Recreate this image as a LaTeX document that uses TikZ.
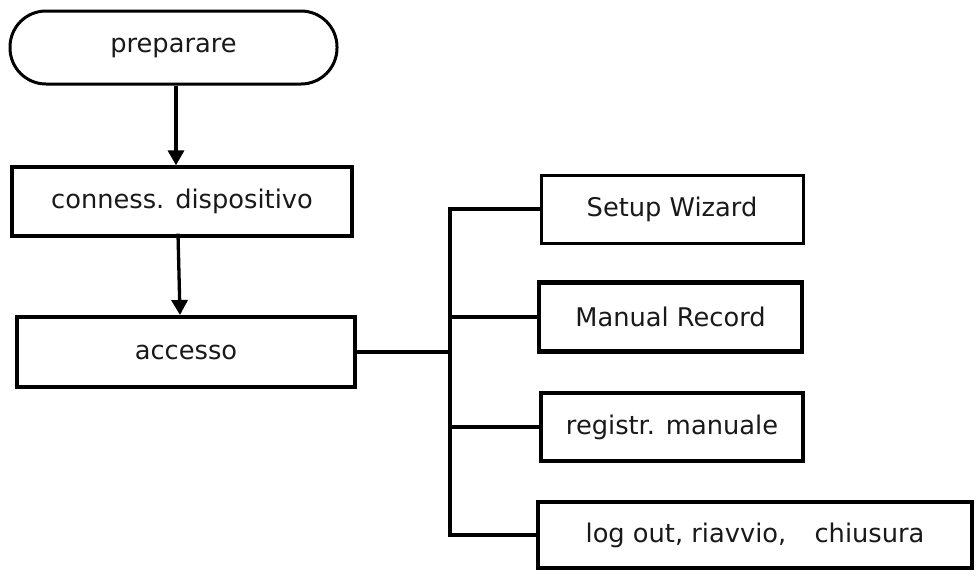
\documentclass[tikz,border=0pt]{standalone}
\usepackage{fontspec}
\setmainfont{DejaVu Sans}
\usetikzlibrary{arrows.meta}
\begin{document}
\begin{tikzpicture}[x=1pt,y=-1pt,
  box/.style={draw=black, rectangle, inner sep=0pt, font=\fontsize{25.7}{30}\selectfont, text=black!90},
  conn/.style={draw=black, line width=3.3pt},
  arr/.style={conn, -{Triangle[length=15pt,width=16pt]}}]
\useasboundingbox (0,0) rectangle (976,576);
\node[box, line width=3pt, minimum width=327pt, minimum height=73pt, rounded corners=36pt] (prep) at (173.5,47.5) {\raisebox{-2pt}{preparare}};
\node[box, line width=3.3pt, minimum width=340pt, minimum height=69pt] (cd) at (182,201.5) {conness. dispositivo};
\node[box, line width=4pt, minimum width=338pt, minimum height=70pt] (acc) at (186,352) {accesso};
\node[box, line width=3pt, minimum width=262pt, minimum height=68pt] (setup) at (672,209) {Setup Wizard};
\node[box, line width=4.5pt, minimum width=263pt, minimum height=69pt] (man) at (670.5,317) {Manual Record};
\node[box, line width=4pt, minimum width=262pt, minimum height=68pt] (reg) at (672,427) {registr. manuale};
\node[box, line width=3.5pt, minimum width=434pt, minimum height=66pt] (lo) at (755,535) {log out, riavvio,\hspace{1.1em}chiusura};
\coordinate (tr) at (450,0);
\draw[arr] ([xshift=2.5pt]prep.south) -- ([xshift=-6pt]cd.north);
\draw[arr] ([xshift=-4pt,yshift=4pt]cd.south) -- ([xshift=-6pt]acc.north);
\draw[conn] (acc.east) -- (acc.east -| tr);
\draw[conn] (setup.west) -- (setup.west -| tr) -- (lo.west -| tr) -- (lo.west);
\draw[conn] (man.west) -- (man.west -| tr);
\draw[conn] (reg.west) -- (reg.west -| tr);
\end{tikzpicture}
\end{document}
